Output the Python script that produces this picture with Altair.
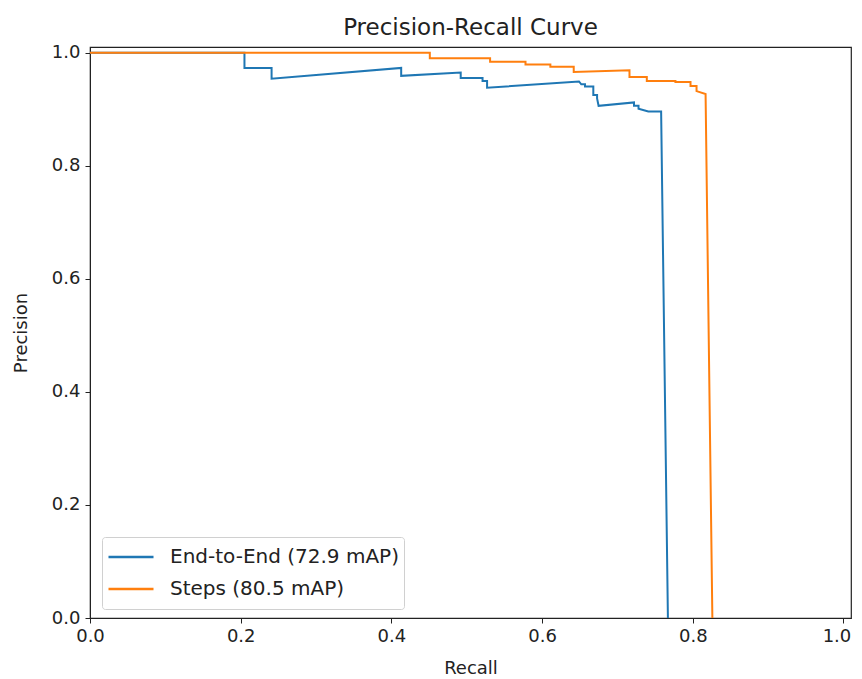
import altair as alt
import pandas as pd

e2e_recall = [0, 0.205, 0.205, 0.241, 0.241, 0.413, 0.413, 0.492, 0.492, 0.521, 0.521, 0.527, 0.527,
              0.649, 0.652, 0.657, 0.657, 0.668, 0.668, 0.673, 0.673, 0.675, 0.722, 0.722, 0.728,
              0.728, 0.741, 0.758, 0.767]
e2e_precision = [1.0, 1.0, 0.973, 0.973, 0.954, 0.973, 0.959, 0.965, 0.955, 0.955, 0.950, 0.950, 0.938,
                 0.949, 0.944, 0.944, 0.940, 0.940, 0.925, 0.925, 0.919, 0.906, 0.912, 0.906, 0.906,
                 0.901, 0.896, 0.896, 0.0]

steps_recall = [0, 0.451, 0.451, 0.531, 0.531, 0.578, 0.578, 0.611, 0.611, 0.642, 0.642, 0.716, 0.716,
                0.739, 0.739, 0.777, 0.777, 0.797, 0.797, 0.805, 0.805, 0.817, 0.826]
steps_precision = [1.0, 1.0, 0.990, 0.990, 0.984, 0.984, 0.979, 0.979, 0.975, 0.975, 0.966, 0.969, 0.957,
                   0.957, 0.950, 0.950, 0.948, 0.948, 0.941, 0.941, 0.932, 0.927, 0.0]

series_names = ["End-to-End (72.9 mAP)", "Steps (80.5 mAP)"]
series_colors = ["#1f77b4", "#ff7f0e"]
ticks = [0.0, 0.2, 0.4, 0.6, 0.8, 1.0]

rows = []
for i, (r, p) in enumerate(zip(e2e_recall, e2e_precision)):
    rows.append({"series": series_names[0], "recall": r, "precision": p, "idx": i})
for i, (r, p) in enumerate(zip(steps_recall, steps_precision)):
    rows.append({"series": series_names[1], "recall": r, "precision": p, "idx": i})
df = pd.DataFrame(rows)

font = "DejaVu Sans"
ink = "#222222"

chart = alt.Chart(df).mark_line(strokeWidth=2, clip=True).encode(
    x=alt.X("recall:Q", title="Recall",
            scale=alt.Scale(domain=[0, 1.01], nice=False, zero=False),
            axis=alt.Axis(values=ticks, format=".1f", grid=False, tickSize=5,
                          labelFontSize=18, titleFontSize=18, labelFont=font, titleFont=font,
                          labelColor=ink, titleColor=ink, domainColor=ink, tickColor=ink,
                          titleFontWeight="normal", labelPadding=4, titlePadding=14, labelFlush=False,
                          labelOffset={"condition": {"test": "datum.value >= 1", "value": -7},
                                       "value": 0})),
    y=alt.Y("precision:Q", title="Precision",
            scale=alt.Scale(domain=[0, 1.01], nice=False, zero=False),
            axis=alt.Axis(values=ticks, format=".1f", grid=False, tickSize=5,
                          labelFontSize=18, titleFontSize=18, labelFont=font, titleFont=font,
                          labelColor=ink, titleColor=ink, domainColor=ink, tickColor=ink,
                          titleFontWeight="normal", labelPadding=5, titlePadding=21, labelFlush=False)),
    color=alt.Color("series:N", scale=alt.Scale(domain=series_names, range=series_colors),
                    legend=alt.Legend(title=None, orient="none", legendX=12, legendY=490,
                                      symbolType="stroke", symbolSize=2025, symbolStrokeWidth=2.5,
                                      clipHeight=30, labelFontSize=20, labelFont=font, labelColor=ink,
                                      labelLimit=500, fillColor="white", strokeColor="#d0d0d0",
                                      cornerRadius=3, padding=5, labelOffset=15, rowPadding=2)),
    order="idx:Q",
).properties(
    width=761, height=571,
    title=alt.TitleParams("Precision-Recall Curve", fontSize=23, font=font, fontWeight="normal",
                          color=ink, offset=4),
    autosize=alt.AutoSizeParams(type="none"),
    padding={"left": 82, "top": 39, "right": 3, "bottom": 62},
).configure_view(stroke=ink, strokeWidth=1.2)

chart.save("out.html", embed_options={"renderer": "svg", "actions": False})
